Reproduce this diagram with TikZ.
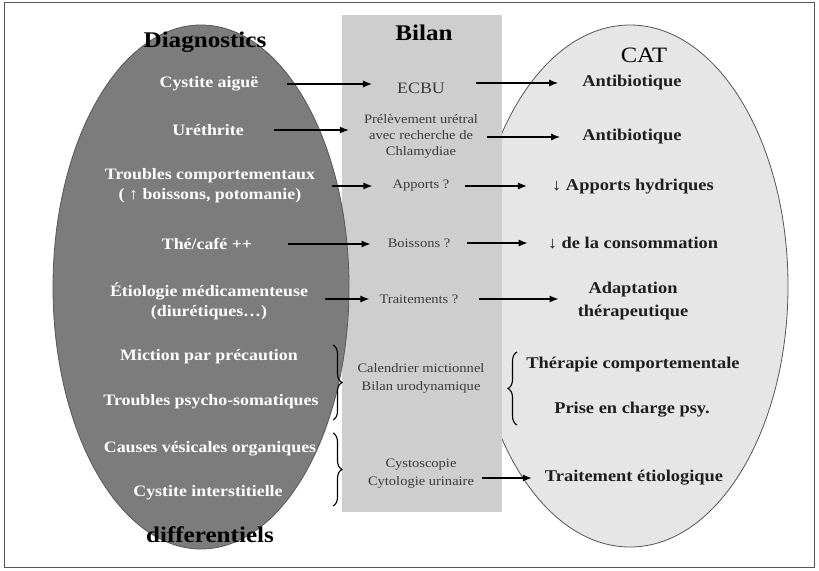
\documentclass[tikz,border=0pt]{standalone}
\usepackage{fontspec}
\setmainfont[FakeStretch=1.12]{Liberation Serif}
\usetikzlibrary{arrows.meta,decorations.pathreplacing,calc}
\definecolor{leftc}{HTML}{7C7C7C}
\definecolor{rectc}{HTML}{CECECE}
\definecolor{rightc}{HTML}{E6E6E6}
\definecolor{framec}{HTML}{555555}
\definecolor{midtext}{HTML}{3A3A3A}
\definecolor{righttext}{HTML}{1E1E1E}
\begin{document}
\begin{tikzpicture}[x=1bp,y=-1bp,
  title/.style={text=black, font=\bfseries\fontsize{22.5}{24}\selectfont, inner sep=0pt},
  lt/.style={text=white, font=\bfseries\fontsize{16}{20}\selectfont, align=center, inner sep=0pt},
  mt/.style={text=midtext, font=\fontsize{13}{16}\selectfont, align=center, inner sep=0pt},
  mt2/.style={text=midtext, font=\fontsize{13}{18}\selectfont, align=center, inner sep=0pt},
  rt/.style={text=righttext, font=\bfseries\fontsize{16.5}{23}\selectfont, align=center, inner sep=0pt},
  arr/.style={-{Latex[length=9bp,width=7bp]}, line width=1.2bp, black},
  brc/.style={decorate, decoration={brace, amplitude=9bp}, line width=1.1bp, black}
]
\useasboundingbox (0,0) rectangle (819,571);
\draw[framec, line width=1bp] (4,3) rectangle (814,567);
% shapes
\draw[fill=rightc, draw=framec, line width=0.8bp] (630,286) ellipse [x radius=158, y radius=261];
\fill[rectc] (342,15) rectangle (502,512);
\draw[fill=leftc, draw=leftc!70!black, line width=0.8bp] (201,287) ellipse [x radius=148, y radius=262];

% titles
\node[title] (diag) at (205,42) {Diagnostics};
\node[title] (bilan) at (424,33) {Bilan};
\node[text=black, font=\fontsize{22}{24}\selectfont, inner sep=0pt] (cat) at (644,55) {CAT};
\node[title] (diff) at (210,535) {differentiels};

% left column
\node[lt] (cyst) at (209,84) {Cystite aiguë};
\node[lt] (ureth) at (208,130) {Uréthrite};
\node[lt] (troub) at (210,186) {Troubles comportementaux\\( ↑ boissons, potomanie)};
\node[lt] (the) at (207,244) {Thé/café ++};
\node[lt] (etio) at (209,301) {Étiologie médicamenteuse\\(diurétiques…)};
\node[lt] (mict) at (209,357) {Miction par précaution};
\node[lt] (psy) at (211,402) {Troubles psycho-somatiques};
\node[lt] (caus) at (210,449) {Causes vésicales organiques};
\node[lt] (inter) at (208,493) {Cystite interstitielle};

% middle column
\node[text=midtext, font=\fontsize{16}{18}\selectfont, inner sep=0pt] (ecbu) at (421,88) {ECBU};
\node[mt] (prel) at (421,136) {Prélèvement urétral\\avec recherche de\\Chlamydiae};
\node[mt] (apports) at (421,186) {Apports ?};
\node[mt] (boiss) at (419,243) {Boissons ?};
\node[mt] (traits) at (419,299) {Traitements ?};
\node[mt2] (cal) at (421,378) {Calendrier mictionnel\\Bilan urodynamique};
\node[mt2] (cysto) at (421,474) {Cystoscopie\\Cytologie urinaire};

% right column
\node[rt] (anti1) at (632,83) {Antibiotique};
\node[rt] (anti2) at (632,137) {Antibiotique};
\node[rt] (apph) at (633,187) {↓ Apports hydriques};
\node[rt] (cons) at (633,243) {↓ de la consommation};
\node[rt] (adapt) at (633,301) {Adaptation\\thérapeutique};
\node[rt] (thcomp) at (633,365) {Thérapie comportementale};
\node[rt] (psy2) at (632,410) {Prise en charge psy.};
\node[rt] (trait) at (634,478) {Traitement étiologique};

% arrows
\draw[arr, shorten <=28bp, shorten >=25bp] (cyst.east) -- (ecbu.west |- cyst.east);
\draw[arr, shorten <=31bp, shorten >=24bp] (ecbu.east |- anti1.west) -- (anti1.west);
\draw[arr, shorten <=30bp, shorten >=15bp] (ureth.east) -- (prel.west |- ureth.east);
\draw[arr, shorten <=9bp, shorten >=22bp] (prel.east |- anti2.west) -- (anti2.west);
\draw[arr, shorten <=17bp, shorten >=20bp] (troub.east) -- (apports.west |- troub.east);
\draw[arr, shorten <=15bp, shorten >=25bp] (apports.east) -- (apph.west |- apports.east);
\draw[arr, shorten <=36bp, shorten >=17bp] (the.east) -- (boiss.west |- the.east);
\draw[arr, shorten <=17bp, shorten >=20bp] (boiss.east) -- (cons.west |- boiss.east);
\draw[arr, shorten <=17bp, shorten >=10bp] (etio.east |- traits.west) -- (traits.west);
\draw[arr, shorten <=20bp, shorten >=19bp] (traits.east) -- (adapt.west |- traits.east);
\draw[arr, shorten <=8bp, shorten >=13bp] (cysto.east |- trait.west) -- (trait.west);

% braces
\coordinate (b1t) at (333,345);
\coordinate (b1b) at (333,420);
\coordinate (b2t) at (333,433);
\coordinate (b2b) at (333,506);
\coordinate (b3t) at (517,352);
\coordinate (b3b) at (517,425);
\draw[brc] (b1t) -- (b1b);
\draw[brc] (b2t) -- (b2b);
\draw[brc] (b3b) -- (b3t);
\end{tikzpicture}
\end{document}
